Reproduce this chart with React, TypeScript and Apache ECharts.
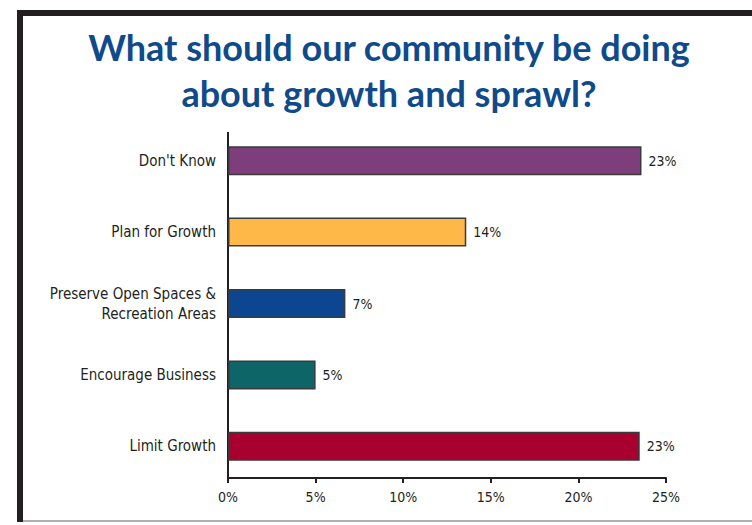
import React, { useEffect, useRef } from "react";
import * as echarts from "echarts";

const categories = [
  "Don't Know",
  "Plan for Growth",
  "Preserve Open Spaces &\nRecreation Areas",
  "Encourage Business",
  "Limit Growth",
];
const values = [23.6, 13.6, 6.7, 5.0, 23.5];
const valueLabels = ["23%", "14%", "7%", "5%", "23%"];
const barColors = ["#7e3e7b", "#fdb848", "#0d4690", "#0d6568", "#a8002f"];
const xTicks = { min: 0, max: 25, interval: 5 };
const titleLines = ["What should our community be doing", "about growth and sprawl?"];

const NARROW = "'DejaVu Sans Condensed', 'Liberation Sans Narrow', sans-serif";

export default function App() {
  const ref = useRef<HTMLDivElement>(null);
  useEffect(() => {
    if (!ref.current) return;
    const chart = echarts.init(ref.current, undefined, { renderer: "svg" });
    chart.setOption({
      animation: false,
      backgroundColor: "#ffffff",
      title: {
        text: titleLines.join("\n"),
        left: 384,
        top: 19,
        textAlign: "center",
        textStyle: {
          fontFamily: "Lato, sans-serif",
          fontWeight: "bold",
          fontSize: 36,
          lineHeight: 46,
          color: "#0f4a8a",
        },
      },
      grid: { left: 228, right: 86, top: 125, bottom: 43, containLabel: false },
      xAxis: {
        type: "value",
        min: xTicks.min,
        max: xTicks.max,
        interval: xTicks.interval,
        offset: -4,
        splitLine: { show: false },
        axisLine: { show: true, lineStyle: { color: "#231f20", width: 2 } },
        axisTick: { show: true, length: 5, lineStyle: { color: "#231f20", width: 2 } },
        axisLabel: {
          formatter: "{value}%",
          fontFamily: NARROW,
          fontSize: 14,
          color: "#231f20",
          margin: 12,
        },
      },
      yAxis: {
        type: "category",
        inverse: true,
        data: categories,
        axisLine: { show: false },
        axisTick: { show: false },
        axisLabel: {
          fontFamily: NARROW,
          fontSize: 15,
          lineHeight: 20,
          color: "#231f20",
          margin: 12,
        },
      },
      series: [
        {
          type: "bar",
          barWidth: 29,
          data: values.map((v, i) => ({
            value: v,
            itemStyle: { color: barColors[i] },
          })),
          itemStyle: { borderColor: "#3a3a3a", borderWidth: 1.5 },
          label: {
            show: true,
            position: "right",
            distance: 7,
            fontFamily: NARROW,
            fontSize: 14,
            color: "#231f20",
            formatter: (p: any) => valueLabels[p.dataIndex],
          },
        },
      ],
      graphic: [
        { type: "rect", shape: { x: 17, y: 10, width: 6, height: 512 }, style: { fill: "#231f20" } },
        { type: "rect", shape: { x: 17, y: 10, width: 740, height: 6 }, style: { fill: "#231f20" } },
        { type: "line", shape: { x1: 23, y1: 521, x2: 752, y2: 521 }, style: { stroke: "#b0b0b0", lineWidth: 2 } },
        { type: "line", shape: { x1: 228, y1: 132, x2: 228, y2: 481 }, style: { stroke: "#231f20", lineWidth: 2 } },
      ],
    });
    return () => chart.dispose();
  }, []);
  return (
    <div
      ref={ref}
      style={{ position: "absolute", left: 0, top: 0, width: 752, height: 525 }}
    />
  );
}
